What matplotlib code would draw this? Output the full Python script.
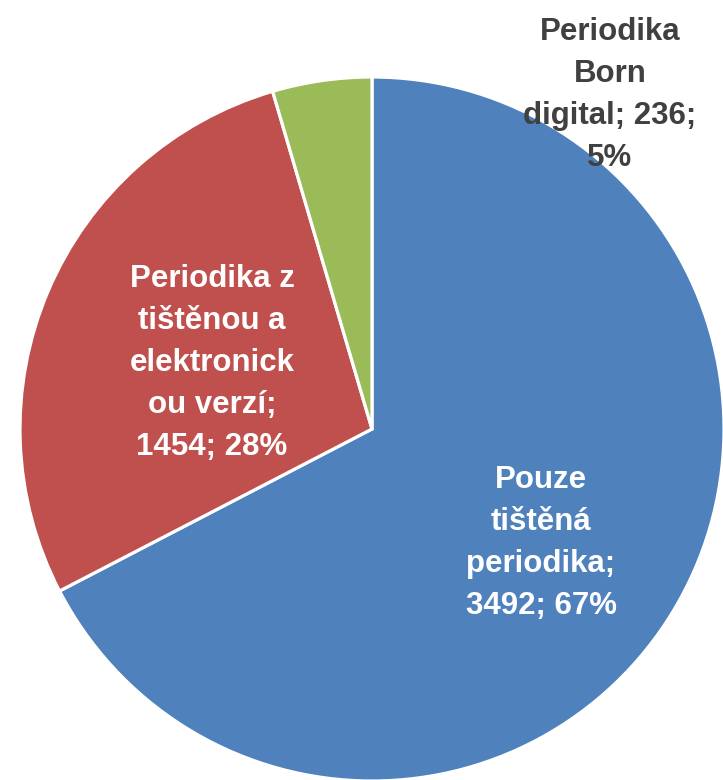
import matplotlib
matplotlib.use("Agg")
import matplotlib.pyplot as plt
from matplotlib import font_manager

categories = ["Pouze tištěná periodika", "Periodika z tištěnou a elektronickou verzí", "Periodika Born digital"]
label_texts = ["Pouze\ntištěná\nperiodika;\n3492; 67%",
               "Periodika z\ntištěnou a\nelektronick\nou verzí;\n1454; 28%",
               "Periodika\nBorn\ndigital; 236;\n5%"]
values = [3492, 1454, 236]
colors = ["#4F81BD", "#C0504D", "#9BBB59"]
label_colors = ["white", "white", "#404040"]

W, H = 723, 780
fig = plt.figure(figsize=(W / 100, H / 100), dpi=100)
ax = fig.add_axes([0, 0, 1, 1])

cx, cy, r = 372, H - 429, 352
wedges, _ = ax.pie(values, colors=colors, startangle=90, counterclock=False,
                   center=(cx, cy), radius=r, frame=True,
                   wedgeprops=dict(edgecolor="white", linewidth=2.3))
ax.set_xlim(0, W)
ax.set_ylim(0, H)
ax.set_aspect("equal")
ax.axis("off")

avail = {f.name for f in font_manager.fontManager.ttflist}
fam = ["Liberation Sans Narrow", "Liberation Sans", "DejaVu Sans"]
fam = [f for f in fam if f in avail] or ["DejaVu Sans"]

positions = [(541, 543), (212, 363), (610, 95)]
for txt, (x, y), c in zip(label_texts, positions, label_colors):
    ax.text(x, H - y, txt, ha="center", va="center", color=c, fontsize=22.5,
            fontweight="bold", family=fam, linespacing=1.52)

fig.savefig("out.png", dpi=100)
